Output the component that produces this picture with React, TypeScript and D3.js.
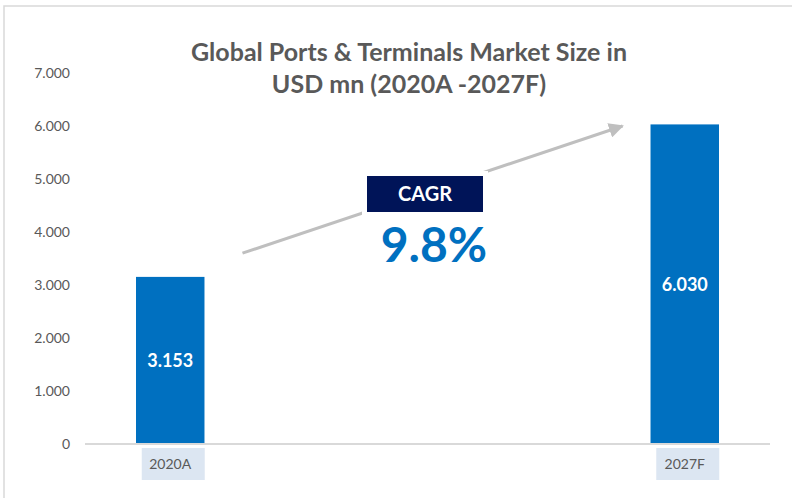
import React from "react";
import * as d3 from "d3";

const categories = ["2020A", "2027F"];
const values = [3153, 6030];
const yTicks = [0, 1000, 2000, 3000, 4000, 5000, 6000, 7000];
const titleLines = ["Global Ports & Terminals Market Size in", "USD mn (2020A -2027F)"];
const cagrLabel = "CAGR";
const cagrValue = "9.8%";

const W = 792;
const H = 498;
const FONT = "Lato, 'Open Sans', sans-serif";
const GRAY = "#595959";
const BLUE = "#0070C0";
const NAVY = "#001458";

const locale = d3.formatLocale({ decimal: ",", thousands: ".", grouping: [3], currency: ["", ""] });
const fmt = locale.format(",");

export default function App() {
  const x = d3.scaleBand<string>().domain(categories).range([136, 719]).paddingInner(0.8669).paddingOuter(0);
  const y = d3.scaleLinear().domain([0, 7000]).range([444, 73]);
  const bw = x.bandwidth();

  const ax1 = (x(categories[0]) ?? 0) + bw + 38;
  const ay1 = y(3600);
  const ax2 = (x(categories[1]) ?? 0) - 28;
  const ay2 = y(6000);

  const boxCx = 425;
  const boxCy = 194;
  const boxW = 116;
  const boxH = 36;

  return (
    <svg width={W} height={H} style={{ position: "absolute", left: 0, top: 0, background: "#fff" }} fontFamily={FONT}>
      <defs>
        <marker id="arrowHead" viewBox="0 0 10 10" refX="9" refY="5" markerWidth="5" markerHeight="5" orient="auto" markerUnits="strokeWidth">
          <path d="M0,0 L10,5 L0,10 Z" fill="#bfbfbf" />
        </marker>
      </defs>
      {/* outer border */}
      <path d={`M4,${H} L4,6 L${W},6`} fill="none" stroke="#d9d9d9" strokeWidth={1.5} />

      {/* title */}
      {titleLines.map((t, i) => (
        <text key={t} x={409} y={61 + i * 32} textAnchor="middle" fontSize={25} fontWeight={700} fill={GRAY}>
          {t}
        </text>
      ))}

      {/* y tick labels */}
      {yTicks.map((t) => (
        <text key={t} x={70} y={y(t)} dy="0.35em" textAnchor="end" fontSize={14} fill={GRAY}>
          {fmt(t)}
        </text>
      ))}

      {/* bars */}
      {categories.map((c, i) => (
        <g key={c}>
          <rect x={x(c)} y={y(values[i])} width={bw} height={y(0) - y(values[i])} fill={BLUE} />
          <text
            x={(x(c) ?? 0) + bw / 2}
            y={(y(values[i]) + y(0)) / 2}
            dy="0.35em"
            textAnchor="middle"
            fontSize={18}
            fontWeight={700}
            fill="#fff"
          >
            {fmt(values[i])}
          </text>
          <rect x={(x(c) ?? 0) + bw / 2 - 28.5} y={448} width={63} height={32} fill="#dce6f2" />
          <text x={(x(c) ?? 0) + bw / 2} y={464} dy="0.35em" textAnchor="middle" fontSize={14} fill={GRAY}>
            {c}
          </text>
        </g>
      ))}

      {/* baseline */}
      <line x1={85} x2={770} y1={y(0)} y2={y(0)} stroke="#d9d9d9" strokeWidth={2} />

      {/* CAGR arrow */}
      <line x1={ax1} y1={ay1} x2={ax2} y2={ay2} stroke="#bfbfbf" strokeWidth={3} markerEnd="url(#arrowHead)" />
      <rect x={boxCx - boxW / 2 - 5} y={boxCy - boxH / 2 - 5} width={boxW + 10} height={boxH + 10} fill="#fff" />
      <rect x={boxCx - boxW / 2} y={boxCy - boxH / 2} width={boxW} height={boxH} fill={NAVY} />
      <text x={boxCx} y={boxCy} dy="0.36em" textAnchor="middle" fontSize={20} fontWeight={700} fill="#fff">
        {cagrLabel}
      </text>
      <text x={434} y={262} textAnchor="middle" fontSize={48} fontWeight={700} fill={BLUE}>
        {cagrValue}
      </text>
    </svg>
  );
}
